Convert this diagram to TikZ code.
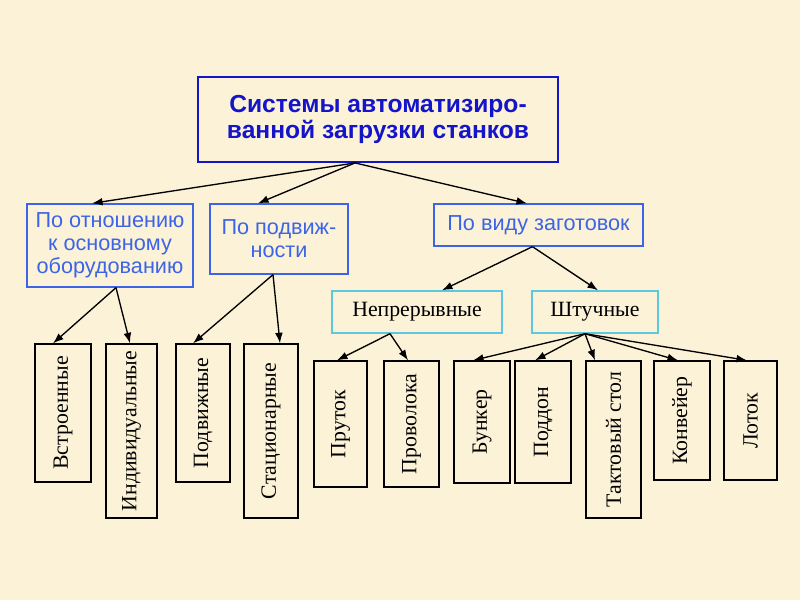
\documentclass[tikz,border=0pt]{standalone}
\usepackage{fontspec}
\setmainfont{Liberation Serif}
\newfontfamily\arialfont{Liberation Sans}
\usetikzlibrary{arrows.meta}
\usetikzlibrary{calc}

\definecolor{paper}{RGB}{252,242,216}
\definecolor{darkblue}{RGB}{20,20,200}
\definecolor{midblue}{RGB}{60,100,230}
\definecolor{lightcyan}{RGB}{90,200,225}

\tikzset{
	mainbox/.style={draw=darkblue, line width=1.3pt, text=darkblue, align=center, inner sep=0pt,
		font=\arialfont\bfseries\fontsize{17.5}{18.5}\selectfont},
	groupbox/.style={draw=midblue, line width=0.9pt, text=midblue, align=center, inner sep=0pt,
		font=\arialfont\fontsize{15.4}{16.4}\selectfont},
	kindbox/.style={draw=lightcyan, line width=1pt, inner sep=0pt, font=\fontsize{15.5}{18}\selectfont},
	itembox/.style={draw=black, line width=0.9pt, inner sep=0pt, font=\fontsize{15.5}{18}\selectfont},
	link/.style={-{Latex[length=7.5pt,width=5.5pt]}, line width=0.95pt}
}

\begin{document}
\begin{tikzpicture}[x=0.025cm, y=-0.025cm]
	\fill[paper] (0,0) rectangle (800,600);
	\useasboundingbox (0,0) rectangle (800,600);

	\node[mainbox, minimum width=9cm, minimum height=2.125cm] (title) at (378,119.5) {Системы автоматизиро-\\ванной загрузки станков};
	\node[groupbox, minimum width=4.15cm, minimum height=2.075cm] (rel) at (110,245.5) {По отношению\\к основному\\оборудованию};
	\node[groupbox, minimum width=3.45cm, minimum height=1.75cm] (mob) at (279,239) {По подвиж-\\ности};
	\node[groupbox, minimum width=5.225cm, minimum height=1.05cm] (kind) at (538.5,225) {По виду заготовок};
	\node[kindbox, minimum width=4.25cm, minimum height=1.05cm] (cont) at (417,312) {Непрерывные};
	\node[kindbox, minimum width=3.15cm, minimum height=1.05cm] (piece) at (595,312) {Штучные};

	\node[itembox, minimum width=1.4cm, minimum height=3.45cm] (built) at (63,413) {\rotatebox{90}{Встроенные}};
	\node[itembox, minimum width=1.275cm, minimum height=4.35cm] (indiv) at (131.5,431) {\rotatebox{90}{Индивидуальные}};
	\node[itembox, minimum width=1.35cm, minimum height=3.45cm] (movbl) at (203,413) {\rotatebox{90}{Подвижные}};
	\node[itembox, minimum width=1.35cm, minimum height=4.35cm] (stat) at (271,431) {\rotatebox{90}{Стационарные}};
	\node[itembox, minimum width=1.325cm, minimum height=3.15cm] (bar) at (340.5,424) {\rotatebox{90}{Пруток}};
	\node[itembox, minimum width=1.375cm, minimum height=3.15cm] (wire) at (411.5,424) {\rotatebox{90}{Проволока}};
	\node[itembox, minimum width=1.4cm, minimum height=3.05cm] (hopper) at (482,422) {\rotatebox{90}{Бункер}};
	\node[itembox, minimum width=1.4cm, minimum height=3.05cm] (pallet) at (543,422) {\rotatebox{90}{Поддон}};
	\node[itembox, minimum width=1.375cm, minimum height=3.925cm] (table) at (613.5,439.5) {\rotatebox{90}{Тактовый стол}};
	\node[itembox, minimum width=1.4cm, minimum height=2.975cm] (conv) at (682,420.5) {\rotatebox{90}{Конвейер}};
	\node[itembox, minimum width=1.325cm, minimum height=2.975cm] (tray) at (750.5,420.5) {\rotatebox{90}{Лоток}};

	\draw[link] ($(title.south)+(-23,0)$) -- ($(rel.north)+(-18,0)$);
	\draw[link] ($(title.south)+(-23,0)$) -- ($(mob.north)+(-21,0)$);
	\draw[link] ($(title.south)+(-23,0)$) -- ($(kind.north)+(-11.5,0)$);
	\draw[link] ($(rel.south)+(6,0)$) -- ($(built.north)+(-10,0)$);
	\draw[link] ($(rel.south)+(6,0)$) -- ($(indiv.north)+(-1.5,0)$);
	\draw[link] ($(mob.south)+(-6,0)$) -- ($(movbl.north)+(-10,0)$);
	\draw[link] ($(mob.south)+(-6,0)$) -- ($(stat.north)+(9,0)$);
	\draw[link] ($(kind.south)+(-6,0)$) -- ($(cont.north)+(25,0)$);
	\draw[link] ($(kind.south)+(-6,0)$) -- ($(piece.north)+(3,0)$);
	\draw[link] ($(cont.south)+(-27,0)$) -- ($(bar.north)+(-3.5,0)$);
	\draw[link] ($(cont.south)+(-27,0)$) -- ($(wire.north)+(-3.5,0)$);
	\foreach \dst/\dx in {hopper/-9, pallet/-8, table/-18.5, conv/-4, tray/-3.5}
		\draw[link] ($(piece.south)+(-10,0)$) -- ($(\dst.north)+(\dx,0)$);
\end{tikzpicture}
\end{document}
